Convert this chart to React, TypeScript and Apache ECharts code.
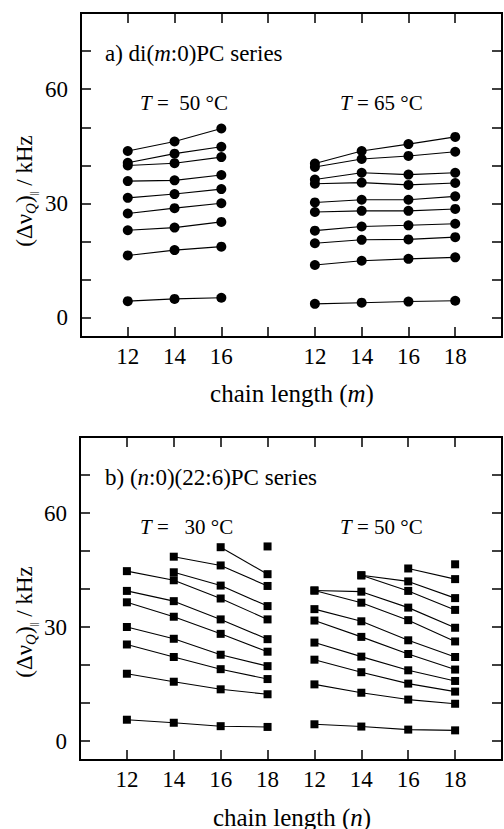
import React, { useEffect, useRef } from "react";
import * as echarts from "echarts";

const FONT = "Liberation Serif";

// Tick labels along the chain-length axis (positions 0..7)
const TOP_TICK_LABELS = ["12", "14", "16", "", "12", "14", "16", "18"];
const BOTTOM_TICK_LABELS = ["12", "14", "16", "18", "12", "14", "16", "18"];
const Y_LABELS = [0, 30, 60];
const Y_TICKS = [0, 10, 20, 30, 40, 50, 60, 70, 80];

// a) di(m:0)PC series, T = 50 °C, m = 12, 14, 16
const diPC50: (number | null)[][] = [
  [43.8, 46.3, 49.7],
  [40.7, 43.1, 44.9],
  [40.0, 40.6, 42.2],
  [35.9, 36.1, 37.5],
  [31.5, 32.5, 33.8],
  [27.4, 28.8, 30.1],
  [23.0, 23.7, 25.2],
  [16.4, 17.8, 18.7],
  [4.4, 5.0, 5.3],
];

// a) di(m:0)PC series, T = 65 °C, m = 12, 14, 16, 18
const diPC65: (number | null)[][] = [
  [40.5, 43.8, 45.6, 47.5],
  [39.6, 41.7, 42.5, 43.6],
  [36.3, 38.1, 37.6, 38.1],
  [35.2, 35.5, 34.9, 35.4],
  [30.3, 31.0, 31.0, 31.9],
  [27.8, 28.1, 28.1, 28.6],
  [22.9, 24.0, 24.3, 24.7],
  [19.6, 20.5, 20.6, 21.2],
  [13.9, 15.0, 15.5, 15.9],
  [3.7, 4.0, 4.3, 4.5],
];

// b) (n:0)(22:6)PC series, T = 30 °C, n = 12, 14, 16, 18
const n226PC30: (number | null)[][] = [
  [null, null, null, 51.2],
  [null, null, 51.0, 43.9],
  [null, 48.5, 46.2, 40.8],
  [null, 44.4, 40.9, 35.5],
  [44.7, 42.3, 37.5, 32.0],
  [39.5, 36.8, 32.0, 26.8],
  [36.5, 32.7, 28.2, 23.5],
  [30.0, 26.9, 22.7, 19.7],
  [25.4, 22.1, 18.9, 16.3],
  [17.7, 15.6, 13.6, 12.3],
  [5.6, 4.8, 3.9, 3.7],
];

// b) (n:0)(22:6)PC series, T = 50 °C, n = 12, 14, 16, 18
const n226PC50: (number | null)[][] = [
  [null, null, null, 46.5],
  [null, null, 45.4, 42.6],
  [null, 43.6, 42.0, 37.6],
  [null, 43.6, 39.5, 34.5],
  [39.6, 39.3, 35.1, 29.8],
  [39.6, 36.4, 31.8, 26.2],
  [34.7, 31.5, 26.5, 22.1],
  [31.7, 27.4, 22.9, 18.8],
  [25.9, 22.2, 18.6, 15.8],
  [21.4, 18.1, 15.1, 13.0],
  [14.9, 12.7, 10.9, 9.8],
  [4.4, 3.8, 3.0, 2.8],
];

const TICK_POSITIONS = TOP_TICK_LABELS.map((_, i) => i);

function makeSeries(
  rows: (number | null)[][],
  offset: number,
  axis: number,
  symbol: string,
  size: number
) {
  return rows.map((row) => ({
    type: "line",
    xAxisIndex: axis,
    yAxisIndex: axis,
    symbol,
    symbolSize: size,
    showSymbol: true,
    silent: true,
    itemStyle: { color: "#000" },
    lineStyle: { color: "#000", width: 1.1 },
    data: row
      .map((v, i) => (v == null ? null : [offset + i, v]))
      .filter((d) => d !== null),
  }));
}

function xAxisDef(grid: number, position: string, labels: string[] | null) {
  return {
    type: "value",
    gridIndex: grid,
    position,
    min: -1,
    max: 8,
    interval: 1,
    axisLine: { show: true, onZero: false, lineStyle: { color: "#000", width: 2 } },
    axisTick: {
      show: true,
      inside: true,
      length: 10,
      customValues: TICK_POSITIONS,
      lineStyle: { color: "#000", width: 1.5 },
    },
    axisLabel: labels
      ? {
          show: true,
          customValues: TICK_POSITIONS,
          formatter: (v: number) => labels[Math.round(v)] ?? "",
          margin: 8,
          fontSize: 23,
          fontFamily: FONT,
          color: "#000",
        }
      : { show: false },
    splitLine: { show: false },
  };
}

function yAxisDef(grid: number, position: string, withLabels: boolean) {
  return {
    type: "value",
    gridIndex: grid,
    position,
    min: -5,
    max: 80,
    axisLine: { show: true, onZero: false, lineStyle: { color: "#000", width: 2 } },
    axisTick: {
      show: true,
      inside: true,
      length: 10,
      customValues: Y_TICKS,
      lineStyle: { color: "#000", width: 1.5 },
    },
    axisLabel: withLabels
      ? {
          show: true,
          customValues: Y_LABELS,
          margin: 13,
          fontSize: 23,
          fontFamily: FONT,
          color: "#000",
        }
      : { show: false },
    splitLine: { show: false },
  };
}

const measureCtx =
  typeof document !== "undefined"
    ? document.createElement("canvas").getContext("2d")
    : null;

function textWidth(text: string, size: number, italic = false) {
  if (!measureCtx) return text.length * size * 0.5;
  measureCtx.font = `${italic ? "italic " : ""}${size}px "Liberation Serif"`;
  return measureCtx.measureText(text).width;
}

// Rotated quantity label (Δν_Q)_∥ / kHz, centred at (cx, cy)
function yTitle(cx: number, cy: number) {
  const parts = [
    { t: "(Δν", size: 23, italic: false, dy: 0 },
    { t: "Q", size: 15, italic: true, dy: 7 },
    { t: ")", size: 23, italic: false, dy: 0 },
    { t: "||", size: 10, italic: false, dy: 9 },
    { t: " / kHz", size: 23, italic: false, dy: 0 },
  ];
  const widths = parts.map((p) => textWidth(p.t, p.size, p.italic));
  const total = widths.reduce((a, b) => a + b, 0);
  let x = -total / 2;
  const children = parts.map((p, i) => {
    const el = {
      type: "text",
      x,
      y: p.dy,
      silent: true,
      style: {
        text: p.t,
        fontSize: p.size,
        fontFamily: FONT,
        fontStyle: p.italic ? "italic" : "normal",
        fill: "#000",
        align: "left",
        verticalAlign: "middle",
      },
    };
    x += widths[i];
    return el;
  });
  return { type: "group", x: cx, y: cy, rotation: Math.PI / 2, children };
}

function richText(x: number, y: number, text: string, size: number, align = "left") {
  return {
    type: "text",
    x,
    y,
    silent: true,
    style: {
      text,
      fill: "#000",
      fontSize: size,
      fontFamily: FONT,
      align,
      verticalAlign: "middle",
      rich: {
        n: { fontSize: size, fontFamily: FONT, fill: "#000" },
        i: { fontSize: size, fontFamily: FONT, fontStyle: "italic", fill: "#000" },
      },
    },
  };
}

export default function App() {
  const ref = useRef<HTMLDivElement>(null);

  useEffect(() => {
    if (!ref.current) return;
    const chart = echarts.init(ref.current, undefined, { renderer: "svg" });

    const gridStyle = {
      show: true,
      borderColor: "#000",
      borderWidth: 2,
      backgroundColor: "transparent",
    };

    const option = {
      animation: false,
      backgroundColor: "#fff",
      grid: [
        { ...gridStyle, left: 81, top: 13, width: 421, height: 324 },
        { ...gridStyle, left: 80, top: 437, width: 422, height: 323 },
      ],
      xAxis: [
        xAxisDef(0, "bottom", TOP_TICK_LABELS),
        xAxisDef(0, "top", null),
        xAxisDef(1, "bottom", BOTTOM_TICK_LABELS),
        xAxisDef(1, "top", null),
      ],
      yAxis: [
        yAxisDef(0, "left", true),
        yAxisDef(0, "right", false),
        yAxisDef(1, "left", true),
        yAxisDef(1, "right", false),
      ],
      series: [
        ...makeSeries(diPC50, 0, 0, "circle", 10),
        ...makeSeries(diPC65, 4, 0, "circle", 10),
        ...makeSeries(n226PC30, 0, 2, "rect", 8),
        ...makeSeries(n226PC50, 4, 2, "rect", 8),
      ],
      graphic: [
        richText(105, 53, "{n|a) di(}{i|m}{n|:0)PC series}", 23),
        richText(140, 103, "{i|T}{n| =\u00A0\u00A050 °C}", 21),
        richText(340, 103, "{i|T}{n| = 65 °C}", 21),
        richText(292, 393, "{n|chain length (}{i|m}{n|)}", 25, "center"),
        yTitle(24, 191),
        richText(105, 477, "{n|b) (}{i|n}{n|:0)(22:6)PC series}", 23),
        richText(140, 527, "{i|T}{n| =\u00A0\u00A0\u00A030 °C}", 21),
        richText(340, 527, "{i|T}{n| = 50 °C}", 21),
        richText(292, 817, "{n|chain length (}{i|n}{n|)}", 25, "center"),
        yTitle(24, 622),
      ],
    };

    chart.setOption(option as any);
    return () => chart.dispose();
  }, []);

  return (
    <div
      ref={ref}
      style={{ position: "absolute", left: 0, top: 0, width: 504, height: 829 }}
    />
  );
}
